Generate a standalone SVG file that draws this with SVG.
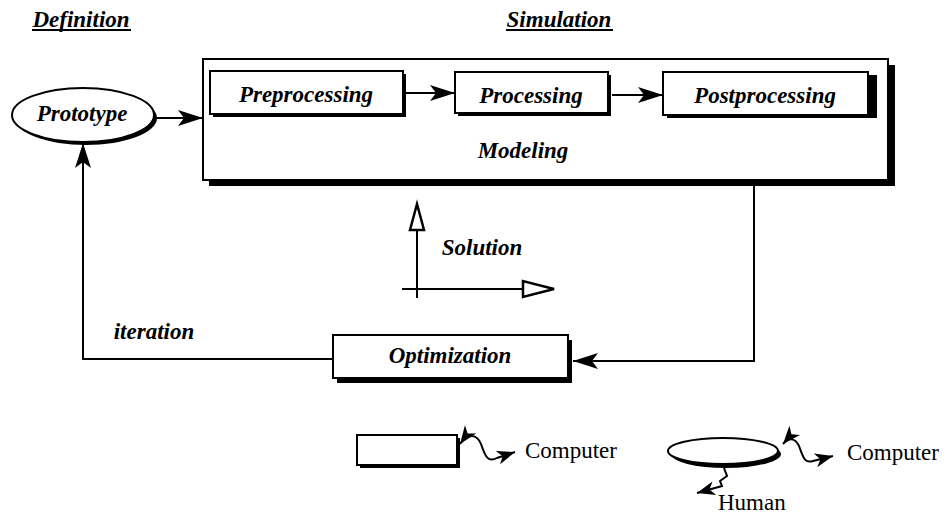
<svg xmlns="http://www.w3.org/2000/svg" width="948" height="514" viewBox="0 0 948 514">
<defs>
<style>
.t{font-family:"Liberation Serif","Times New Roman",serif;font-weight:bold;font-style:italic;font-size:23px;fill:#000;text-anchor:middle}
.r{font-family:"Liberation Serif","Times New Roman",serif;font-size:23px;fill:#000}
.box{fill:#fff;stroke:#000;stroke-width:2}
.sh{fill:#000}
.ln{fill:none;stroke:#000;stroke-width:2}
.open{fill:#fff;stroke:#000;stroke-width:2.5;stroke-linejoin:miter}
</style>
<marker id="ah" markerUnits="userSpaceOnUse" markerWidth="30" markerHeight="20" viewBox="-26 -10 28 20" refX="0" refY="0" orient="auto">
<path d="M0,0 L-25,-8 L-19,0 L-25,8 Z" fill="#000"/>
</marker>
<marker id="sa" markerUnits="userSpaceOnUse" markerWidth="22" markerHeight="16" viewBox="-19 -8 21 16" refX="0" refY="0" orient="auto-start-reverse">
<path d="M0,0 L-18,-7 L-13,0 L-18,7 Z" fill="#000"/>
</marker>
</defs>

<g id="headers">
<text class="t" x="81" y="27">Definition</text>
<line x1="32" y1="30" x2="131" y2="30" stroke="#000" stroke-width="2"/>
<text class="t" x="559" y="27">Simulation</text>
<line x1="506" y1="30" x2="613" y2="30" stroke="#000" stroke-width="2"/>
</g>

<g id="modeling">
<rect class="sh" x="209" y="65" width="686" height="121"/>
<rect class="box" x="203" y="59" width="685" height="121"/>
<text class="t" x="523" y="158">Modeling</text>
</g>

<g id="prototype">
<ellipse class="sh" cx="86" cy="118" rx="71" ry="27"/>
<ellipse class="box" cx="83" cy="115" rx="71" ry="27"/>
<text class="t" x="82" y="121">Prototype</text>
</g>

<g id="preprocessing">
<rect class="sh" x="213" y="74" width="193" height="43"/>
<rect class="box" x="210" y="71" width="193" height="43"/>
<text class="t" x="306" y="102">Preprocessing</text>
</g>

<g id="processing">
<rect class="sh" x="458" y="75" width="153" height="41"/>
<rect class="box" x="455" y="72" width="153" height="41"/>
<text class="t" x="531" y="103">Processing</text>
</g>

<g id="postprocessing">
<rect class="sh" x="667" y="75" width="210" height="43"/>
<rect class="box" x="663" y="72" width="205" height="43"/>
<text class="t" x="765" y="103">Postprocessing</text>
</g>

<g id="optimization">
<rect class="sh" x="337" y="340" width="235" height="43"/>
<rect class="box" x="333" y="335" width="235" height="43"/>
<text class="t" x="450" y="363">Optimization</text>
</g>

<g id="solution">
<line class="ln" x1="417" y1="230" x2="417" y2="298"/>
<polygon class="open" points="417,204 410,230 424,230"/>
<line class="ln" x1="402" y1="289" x2="523" y2="289"/>
<polygon class="open" points="554,289 523,281 523,297"/>
<text class="t" x="482" y="255">Solution</text>
</g>

<g id="connectors">
<line class="ln" x1="155" y1="118" x2="203" y2="118" marker-end="url(#ah)"/>
<line class="ln" x1="406" y1="93" x2="455" y2="93" marker-end="url(#ah)"/>
<line class="ln" x1="612" y1="95" x2="663" y2="95" marker-end="url(#ah)"/>
<polyline class="ln" points="754,186 754,361 573,361" marker-end="url(#ah)"/>
<polyline class="ln" points="333,359 83,359 83,143" marker-end="url(#ah)"/>
<text class="t" x="154" y="339">iteration</text>
</g>

<g id="legend-computer">
<rect class="sh" x="360" y="438" width="100" height="30"/>
<rect class="box" x="357" y="435" width="100" height="30"/>
<path class="ln" d="M460,444 C468,433 477,434 481,444 C485,456 488,463 497,458 L515,452" marker-start="url(#sa)" marker-end="url(#sa)"/>
<text class="r" x="525" y="458">Computer</text>
</g>

<g id="legend-human">
<ellipse class="sh" cx="726" cy="454" rx="55" ry="14"/>
<ellipse class="box" cx="723" cy="451" rx="55" ry="13"/>
<path class="ln" d="M783,444 C789,437 795,438 799,446 C803,456 804,464 813,461 L833,456" marker-start="url(#sa)" marker-end="url(#sa)"/>
<path class="ln" d="M724,468 L727,476 L720,481 L722,486 L697,493" marker-end="url(#sa)"/>
<text class="r" x="847" y="460">Computer</text>
<text class="r" x="718" y="510">Human</text>
</g>
</svg>
